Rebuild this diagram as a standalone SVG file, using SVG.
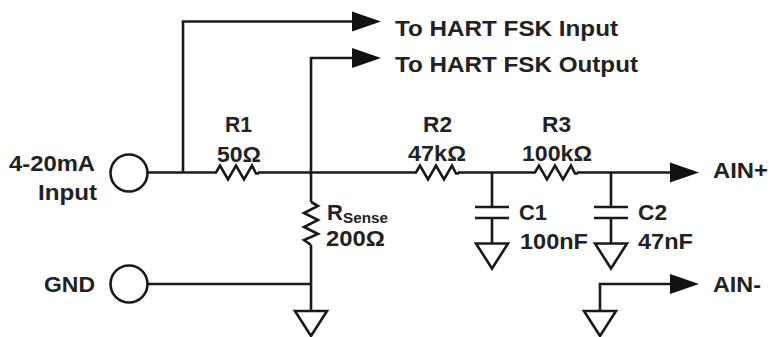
<svg xmlns="http://www.w3.org/2000/svg" width="769" height="337" viewBox="0 0 769 337">
<style>
.w{fill:none;stroke:#1a1a1a;stroke-width:2.6;stroke-linejoin:miter}
.g{fill:#fff;stroke:#1a1a1a;stroke-width:2.6;stroke-linejoin:miter}
.a{fill:#111;stroke:none}
text{font-family:"Liberation Sans",Arial,sans-serif;font-size:22px;font-weight:700;fill:#222}
.sub{font-size:15px}
</style>
<defs>
<path id="gnd" class="g" d="M-16 0H16L0 25Z"/>
<path id="arr" class="a" d="M0-10L29 0L0 10Z"/>
<path id="res" class="w" d="M0 0H3L7-7L15 7L23-7L31 7L39-7L43 1H46"/>
</defs>
<rect width="769" height="337" fill="#fff"/>
<g id="connectors">
<path class="w" d="M147 172.500H213M258 172.500H413M458 172.500H532M577 172.500H672"/>
<path class="w" d="M183 172.500V21.500H353"/>
<path class="w" d="M311 202V58H353"/>
<path class="w" d="M311 245V311"/>
<path class="w" d="M147 284H311"/>
<path class="w" d="M492 172.500V207M492 218V243"/>
<path class="w" d="M611 172.500V207M611 218V243"/>
<path class="w" d="M600 310V284H672"/>
</g>
<g id="input"><circle class="g" cx="129" cy="173" r="18.500"/><text x="9" y="170.500" textLength="86" lengthAdjust="spacingAndGlyphs">4-20mA</text><text x="38" y="199.500" textLength="59" lengthAdjust="spacingAndGlyphs">Input</text></g>
<g id="gnd-in"><circle class="g" cx="129" cy="284" r="18.500"/><text x="44" y="291.500" textLength="51" lengthAdjust="spacingAndGlyphs">GND</text><use href="#gnd" x="311" y="311"/></g>
<g id="hart-in"><use href="#arr" x="352" y="21.500"/><text x="395" y="35.500" textLength="223" lengthAdjust="spacingAndGlyphs">To HART FSK Input</text></g>
<g id="hart-out"><use href="#arr" x="352" y="58"/><text x="395" y="71.500" textLength="243" lengthAdjust="spacingAndGlyphs">To HART FSK Output</text></g>
<g id="r1"><use href="#res" x="213" y="172.500"/><text x="225" y="131.500" textLength="27" lengthAdjust="spacingAndGlyphs">R1</text><text x="217" y="161.500" textLength="44" lengthAdjust="spacingAndGlyphs">50Ω</text></g>
<g id="r2"><use href="#res" x="413" y="172.500"/><text x="423" y="131.500" textLength="29" lengthAdjust="spacingAndGlyphs">R2</text><text x="408" y="160.500" textLength="58" lengthAdjust="spacingAndGlyphs">47kΩ</text></g>
<g id="r3"><use href="#res" x="532" y="172.500"/><text x="542" y="131.500" textLength="29" lengthAdjust="spacingAndGlyphs">R3</text><text x="522" y="160.500" textLength="70" lengthAdjust="spacingAndGlyphs">100kΩ</text></g>
<g id="rsense"><path class="w" d="M311 202L318 206L304 213L318 220L304 227L318 234L304 240L311 245"/><text x="327" y="219.500">R</text><text class="sub" x="343" y="223" textLength="45" lengthAdjust="spacingAndGlyphs">Sense</text><text x="326" y="245.500" textLength="59" lengthAdjust="spacingAndGlyphs">200Ω</text></g>
<g id="c1"><path class="w" d="M475 207H509M475 218H509"/><use href="#gnd" x="492" y="243.500"/><text x="519" y="219.500" textLength="28" lengthAdjust="spacingAndGlyphs">C1</text><text x="520" y="248.500" textLength="68" lengthAdjust="spacingAndGlyphs">100nF</text></g>
<g id="c2"><path class="w" d="M594 207H628M594 218H628"/><use href="#gnd" x="611" y="243.500"/><text x="638" y="219.500" textLength="29" lengthAdjust="spacingAndGlyphs">C2</text><text x="638" y="248.500" textLength="55" lengthAdjust="spacingAndGlyphs">47nF</text></g>
<g id="ain-plus"><use href="#arr" x="670" y="172.500"/><text x="713" y="177.500" textLength="55" lengthAdjust="spacingAndGlyphs">AIN+</text></g>
<g id="ain-minus"><use href="#arr" x="670" y="284"/><text x="713" y="291.500" textLength="48" lengthAdjust="spacingAndGlyphs">AIN-</text><use href="#gnd" x="600" y="311"/></g>
</svg>
